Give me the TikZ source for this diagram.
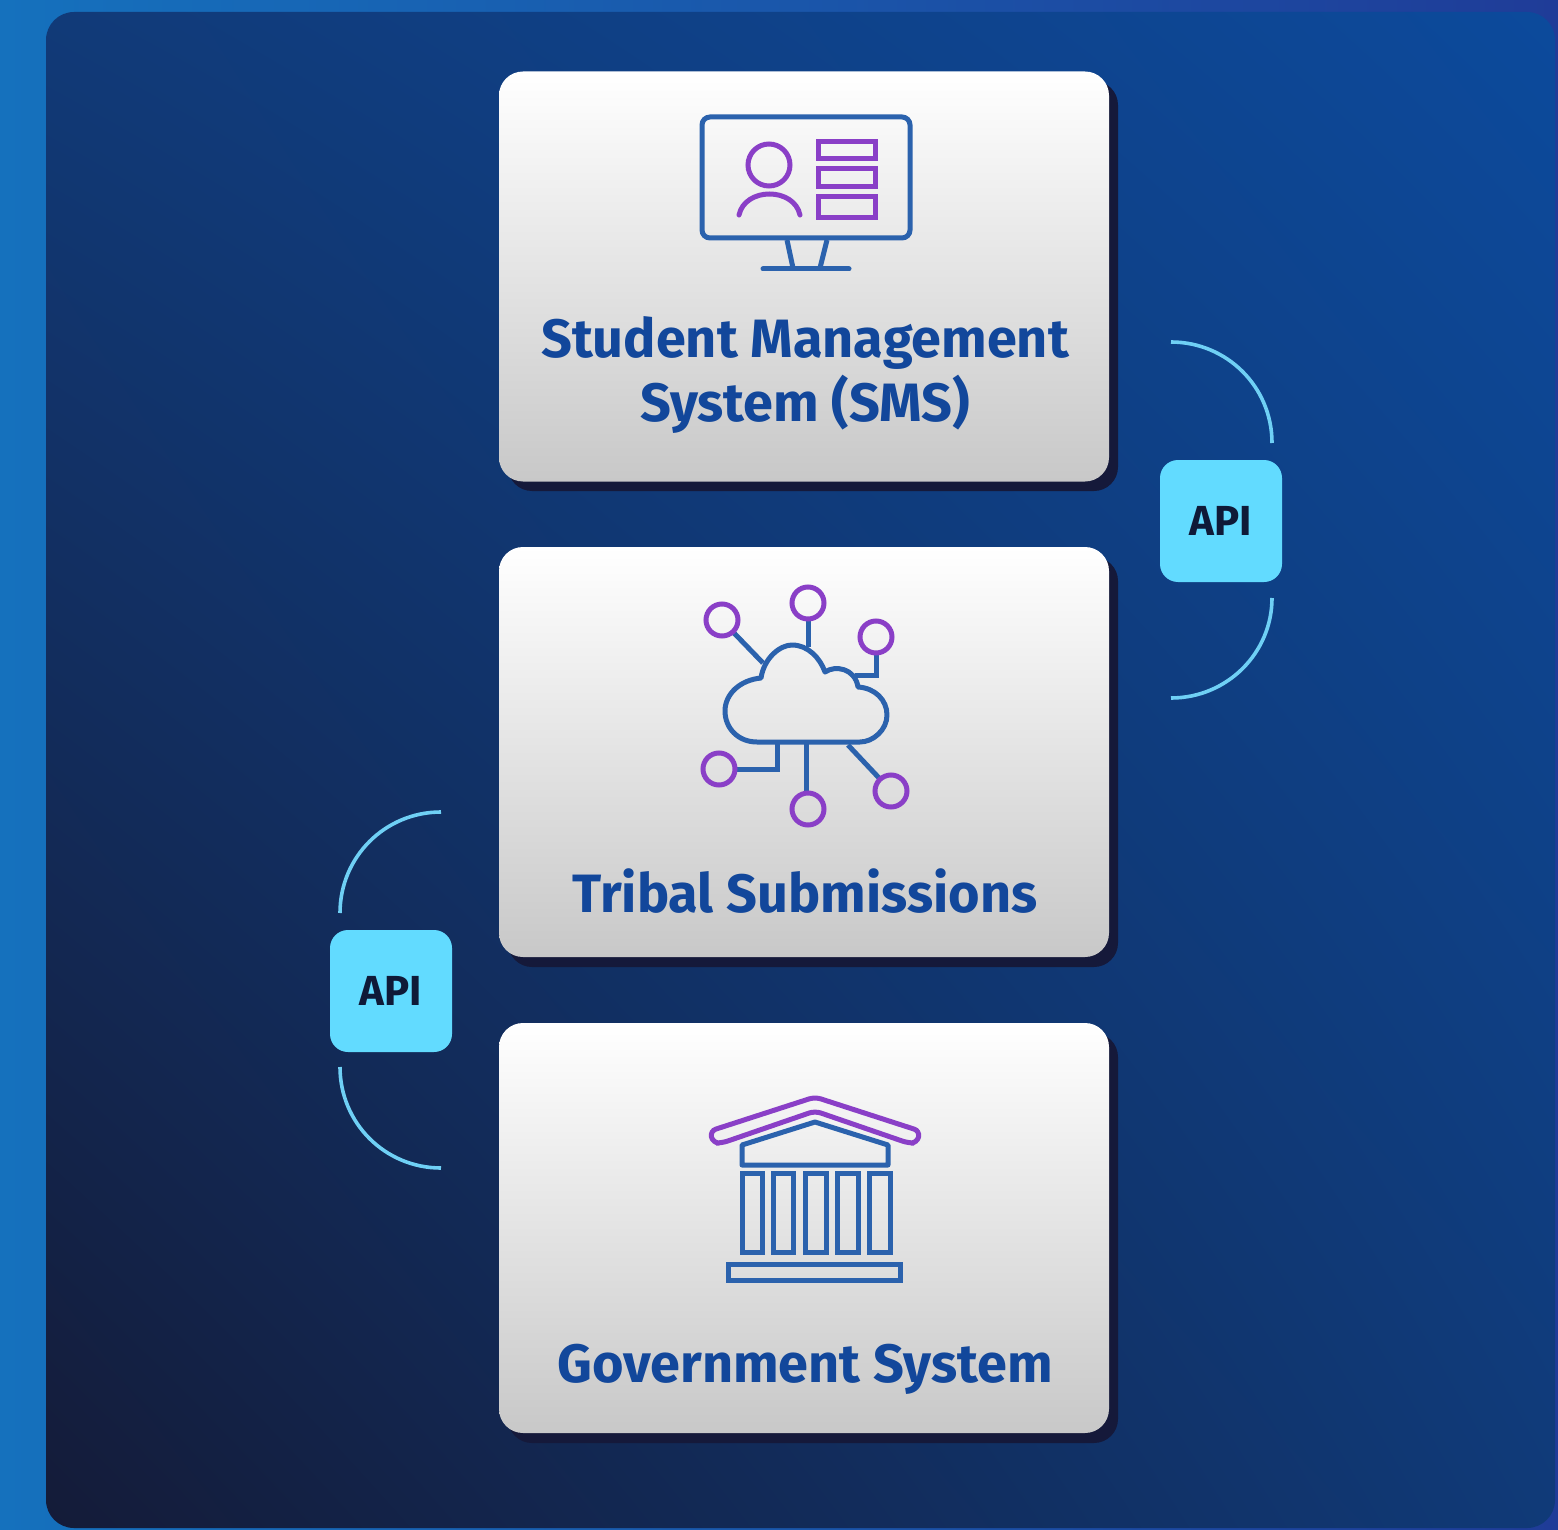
\documentclass[tikz,border=0pt]{standalone}
\usepackage{fontspec}
\setmainfont{Fira Sans}
\newfontfamily\labfont{Fira Sans}
\usetikzlibrary{shadings}
\definecolor{outerL}{HTML}{1571BD}
\definecolor{outerR}{HTML}{1F3C98}
\definecolor{innTL}{HTML}{113A78}
\definecolor{innTR}{HTML}{0C4A9C}
\definecolor{innBL}{HTML}{141B38}
\definecolor{innBR}{HTML}{103A78}
\definecolor{shadowc}{HTML}{15193A}
\definecolor{cardM}{HTML}{E8E8E8}
\definecolor{cardB}{HTML}{C8C8C8}
\definecolor{labc}{HTML}{12479B}
\definecolor{apic}{HTML}{62DBFF}
\definecolor{apit}{HTML}{0F1A38}
\definecolor{arcc}{HTML}{6FD0F5}
\definecolor{iconb}{HTML}{2B62AD}
\definecolor{iconp}{HTML}{8A3FC7}
\tikzset{
  cardbox/.style={minimum width=305pt,minimum height=205pt,rounded corners=12pt,inner sep=0pt,
    top color=white,middle color=cardM,bottom color=cardB,draw=none},
  cardshadow/.style={minimum width=305pt,minimum height=205pt,rounded corners=12pt,inner sep=0pt,fill=shadowc},
  apibox/.style={minimum width=61pt,minimum height=61pt,rounded corners=9pt,inner sep=0pt,fill=apic,
    text=apit,font=\labfont\bfseries\fontsize{21}{24}\selectfont},
  cardlabel/.style={text=labc,align=center,inner sep=0pt,font=\labfont\bfseries\fontsize{27}{32}\selectfont},
  apiarc/.style={draw=arcc,line width=1.8pt},
  ib/.style={draw=iconb,line width=2.5pt},
  ip/.style={draw=iconp,line width=2.5pt},
}
\begin{document}
\begin{tikzpicture}[x=0.5pt,y=-0.5pt]
\useasboundingbox (0,0) rectangle (1558,1530);
\shade[left color=outerL,right color=outerR] (0,0) rectangle (1558,1530);
\shade[rounded corners=14pt,upper left=innTL,upper right=innTR,lower left=innBL,lower right=innBR]
  (46,12) rectangle (1555,1528);

% cards
\node[cardshadow] (s1) at (813,286) {};
\node[cardshadow] (s2) at (813,762) {};
\node[cardshadow] (s3) at (813,1238) {};
\node[cardbox] (sms) at (804,276.5) {};
\node[cardbox] (tribal) at (804,752) {};
\node[cardbox] (gov) at (804,1228) {};
\node[cardlabel] (smsl) at (805,375) {Student Management\\System (SMS)};
\node[cardlabel] (tribl) at (805,891) {Tribal Submissions};
\node[cardlabel] (govl) at (805,1369) {Government System};

% API
\node[apibox] (apiA) at (1221,521) {API};
\node[apibox] (apiB) at (391,991) {API};
\coordinate (a1) at (1171,342); \coordinate (a2) at (1272,443);
\coordinate (a3) at (1272,598); \coordinate (a4) at (1171,698);
\coordinate (b1) at (441,812);  \coordinate (b2) at (340,913);
\coordinate (b3) at (340,1067); \coordinate (b4) at (441,1168);
\draw[apiarc] (a1) .. controls (1227,342) and (1272,387) .. (a2);
\draw[apiarc] (a3) .. controls (1272,653) and (1227,698) .. (a4);
\draw[apiarc] (b1) .. controls (385,812) and (340,857) .. (b2);
\draw[apiarc] (b3) .. controls (340,1123) and (385,1168) .. (b4);

% monitor icon
\draw[ib,rounded corners=4pt] (702,117) rectangle (910,238);
\draw[ib] (787,240) -- (793,268) (827,240) -- (820,268);
\draw[ib,line cap=round] (763,269) -- (849,269);
\draw[ip] (769,165) circle (10.5pt);
\draw[ip,line cap=round] (739,215) .. controls (745,187) and (794,187) .. (800,215);
\draw[ip] (818,142) rectangle (875,159);
\draw[ip] (818,169) rectangle (875,187);
\draw[ip] (818,197) rectangle (875,218);

% cloud icon
\draw[ib,line join=round] (757,742) .. controls (738,742) and (725,728) .. (725,711)
  .. controls (725,694) and (740,680) .. (761,678)
  .. controls (764,658) and (780,645) .. (792,645)
  .. controls (808,645) and (820,658) .. (825,672)
  .. controls (835,665) and (855,668) .. (858,687)
  .. controls (875,688) and (887,700) .. (887,715)
  .. controls (887,730) and (873,742) .. (860,742) -- cycle;
\draw[ib] (734,633) -- (763,663);
\draw[ib] (808,618) -- (808,647);
\draw[ib] (876,652) -- (876,675) -- (855,675);
\draw[ib] (735,769) -- (777,769) -- (777,742);
\draw[ib] (806,742) -- (806,793);
\draw[ib] (848,745) -- (880,779);
\draw[ip] (722,620) circle (8pt);
\draw[ip] (808,603) circle (8pt);
\draw[ip] (876,637) circle (8pt);
\draw[ip] (719,769) circle (8pt);
\draw[ip] (808,809) circle (8pt);
\draw[ip] (891,791) circle (8pt);

% government icon
\draw[ip,rounded corners=3pt] (815,1097) -- (920,1131) -- (917,1143) -- (908,1143) -- (815,1111)
  -- (722,1143) -- (713,1143) -- (710,1131) -- cycle;
\draw[ib,line join=round] (742,1145) -- (815,1122) -- (888,1145) -- (888,1165) -- (742,1165) -- cycle;
\draw[ib] (742,1173) rectangle (762,1252);
\draw[ib] (773,1173) rectangle (793,1252);
\draw[ib] (805,1173) rectangle (826,1252);
\draw[ib] (837,1173) rectangle (858,1252);
\draw[ib] (869,1173) rectangle (890,1252);
\draw[ib] (728,1264) rectangle (900,1280);
\end{tikzpicture}
\end{document}
